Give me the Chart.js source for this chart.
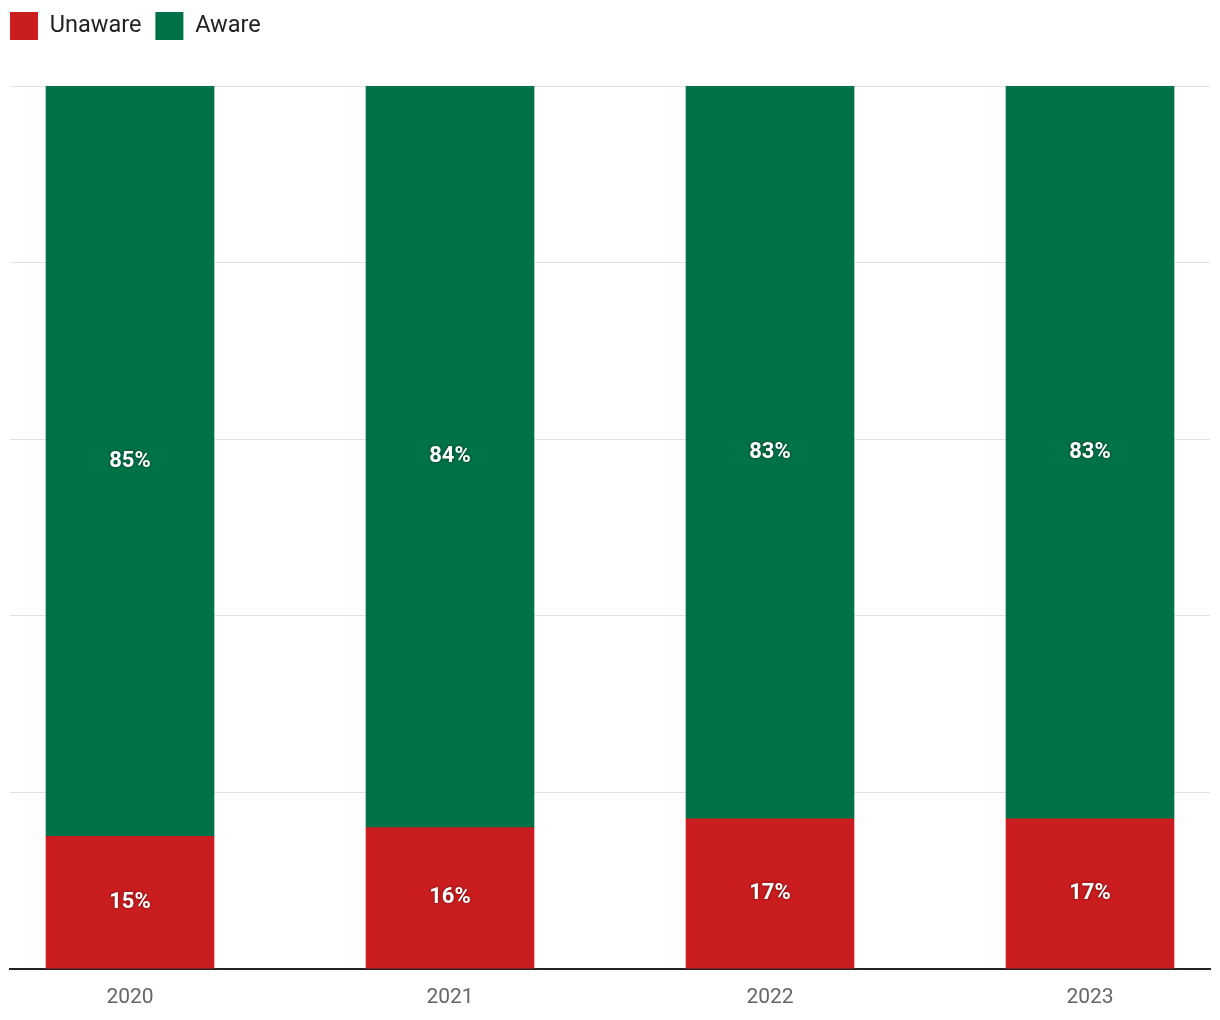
<!DOCTYPE html>
<html>
<head>
<meta charset="utf-8">
<script src="https://cdn.jsdelivr.net/npm/chart.js@4/dist/chart.umd.min.js"></script>
<style>
  html, body { margin: 0; padding: 0; background: #fff; }
  #wrap { width: 1220px; height: 1020px; position: relative; }
</style>
</head>
<body>
<div id="wrap"><canvas id="c" width="1220" height="1020"></canvas></div>
<script>
const years = ['2020', '2021', '2022', '2023'];
const unaware = [15, 16, 17, 17];
const aware = [85, 84, 83, 83];
const seriesNames = ['Unaware', 'Aware'];
const colors = ['#C91D1F', '#007247'];

const labelPlugin = {
  id: 'segLabels',
  afterDatasetsDraw(chart) {
    const ctx = chart.ctx;
    ctx.save();
    ctx.font = 'bold 22px Roboto';
    ctx.fillStyle = '#ffffff';
    ctx.textAlign = 'center';
    ctx.textBaseline = 'middle';
    ctx.shadowColor = 'rgba(0,0,0,0.55)';
    ctx.shadowBlur = 3;
    chart.data.datasets.forEach((ds, di) => {
      const meta = chart.getDatasetMeta(di);
      meta.data.forEach((bar, i) => {
        const p = bar.getProps(['x', 'y', 'base'], true);
        const cy = (p.y + p.base) / 2;
        ctx.fillText(ds.data[i].y + '%', p.x, cy);
      });
    });
    ctx.restore();
  }
};

const legendMargin = {
  id: 'legendMargin',
  beforeInit(chart) {
    const fit = chart.legend.fit;
    chart.legend.fit = function () {
      fit.bind(chart.legend)();
      this.height += 36;
    };
  }
};

new Chart(document.getElementById('c'), {
  type: 'bar',
  data: {
    datasets: [
      { label: seriesNames[0], data: unaware.map((v, i) => ({ x: i, y: v })), backgroundColor: colors[0], barThickness: 168 },
      { label: seriesNames[1], data: aware.map((v, i) => ({ x: i, y: v })), backgroundColor: colors[1], barThickness: 168 }
    ]
  },
  options: {
    responsive: false,
    animation: false,
    layout: { padding: { left: -4, right: 10, top: -2, bottom: -6 } },
    plugins: {
      legend: {
        position: 'top',
        align: 'start',
        labels: {
          boxWidth: 28,
          boxHeight: 28,
          padding: 14,
          color: '#222',
          font: { family: 'Roboto', size: 23.5 }
        }
      },
      tooltip: { enabled: false }
    },
    scales: {
      x: {
        type: 'linear',
        stacked: true,
        offset: false,
        min: -0.375,
        max: 3.375,
        afterBuildTicks(scale) { scale.ticks = years.map((_, i) => ({ value: i })); },
        grid: { display: false, drawTicks: false },
        border: { display: true, color: '#222', width: 2 },
        ticks: {
          padding: 16,
          color: '#666',
          font: { family: 'Roboto', size: 21 },
          callback: (v) => years[v] ?? ''
        }
      },
      y: {
        stacked: true,
        min: 0,
        max: 100,
        afterFit(scale) { scale.width = 14; },
        ticks: { display: false, stepSize: 20 },
        grid: { color: '#e3e3e3', lineWidth: 1, drawTicks: false },
        border: { display: false }
      }
    }
  },
  plugins: [labelPlugin, legendMargin]
});
</script>
</body>
</html>
